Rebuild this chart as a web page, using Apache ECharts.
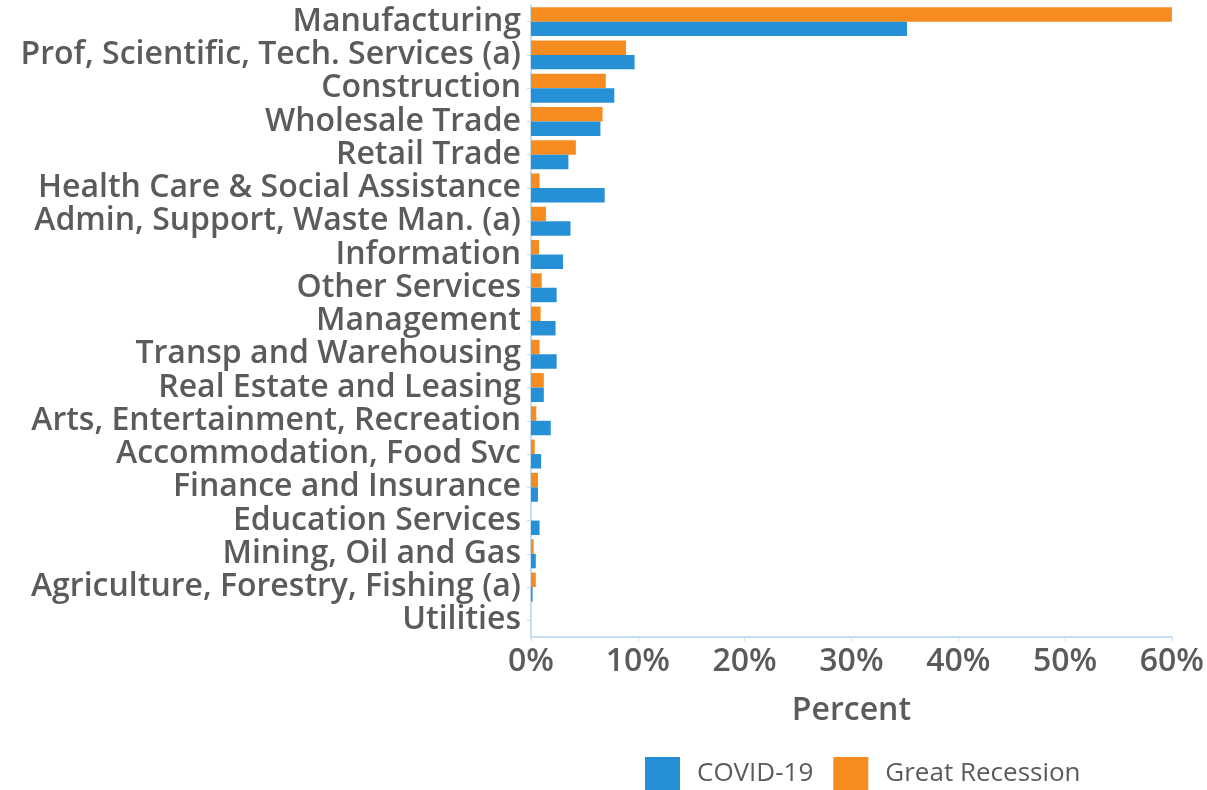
<!DOCTYPE html>
<html>
<head>
<meta charset="utf-8">
<script src="https://cdn.jsdelivr.net/npm/echarts@6/dist/echarts.min.js"></script>
<style>
  html, body { margin: 0; padding: 0; background: #ffffff; }
  #chart { width: 1207px; height: 790px; }
</style>
</head>
<body>
<div id="chart"></div>
<script>
// Industries, top to bottom
const industries = [
  'Manufacturing',
  'Prof, Scientific, Tech. Services (a)',
  'Construction',
  'Wholesale Trade',
  'Retail Trade',
  'Health Care & Social Assistance',
  'Admin, Support, Waste Man. (a)',
  'Information',
  'Other Services',
  'Management',
  'Transp and Warehousing',
  'Real Estate and Leasing',
  'Arts, Entertainment, Recreation',
  'Accommodation, Food Svc',
  'Finance and Insurance',
  'Education Services',
  'Mining, Oil and Gas',
  'Agriculture, Forestry, Fishing (a)',
  'Utilities'
];

// Share of job losses, percent
const covid19 = [35.2, 9.7, 7.8, 6.5, 3.5, 6.9, 3.7, 3.0, 2.4, 2.3, 2.4, 1.2, 1.85, 0.95, 0.65, 0.8, 0.45, 0.15, 0.0];
const greatRecession = [60.9, 8.9, 7.0, 6.7, 4.2, 0.8, 1.4, 0.75, 1.0, 0.9, 0.8, 1.2, 0.5, 0.35, 0.65, 0.0, 0.25, 0.45, 0.0];

const xTicks = [0, 10, 20, 30, 40, 50, 60];

const textGray = '#5b5b5b';
const axisBlue = '#c8dcef';
const font = 'Open Sans';

const chart = echarts.init(document.getElementById('chart'));
chart.setOption({
  animation: false,
  backgroundColor: '#ffffff',
  grid: { left: 531, right: 30, top: 5, bottom: 153, containLabel: false },
  legend: {
    data: ['COVID-19', 'Great Recession'],
    left: 640,
    top: 752,
    itemWidth: 35,
    itemHeight: 34,
    itemGap: 20,
    icon: 'rect',
    textStyle: { color: textGray, fontFamily: font, fontSize: 26, fontWeight: 500, padding: [0, 0, 0, 12] }
  },
  xAxis: {
    type: 'value',
    min: xTicks[0],
    max: xTicks[xTicks.length - 1],
    interval: 10,
    name: 'Percent',
    nameLocation: 'middle',
    nameGap: 58,
    nameTextStyle: { color: textGray, fontFamily: font, fontSize: 32, fontWeight: 600 },
    axisLine: { show: true, lineStyle: { color: axisBlue, width: 2 } },
    axisTick: { show: true, length: 4, lineStyle: { color: axisBlue } },
    splitLine: { show: false },
    axisLabel: {
      color: textGray, fontFamily: font, fontSize: 32, fontWeight: 600, margin: 9,
      formatter: v => v + '%'
    }
  },
  yAxis: {
    type: 'category',
    data: industries,
    inverse: true,
    axisLine: { show: true, lineStyle: { color: axisBlue, width: 2 } },
    axisTick: { show: true, length: 4, alignWithLabel: true, lineStyle: { color: axisBlue } },
    axisLabel: { color: textGray, fontFamily: font, fontSize: 32, fontWeight: 600, margin: 10, interval: 0 }
  },
  series: [
    {
      name: 'Great Recession',
      type: 'bar',
      data: greatRecession,
      itemStyle: { color: '#f68b1f' },
      barGap: '0%',
      barCategoryGap: '13%'
    },
    {
      name: 'COVID-19',
      type: 'bar',
      data: covid19,
      itemStyle: { color: '#2690d6' },
      barGap: '0%',
      barCategoryGap: '13%'
    }
  ]
});
</script>
</body>
</html>
